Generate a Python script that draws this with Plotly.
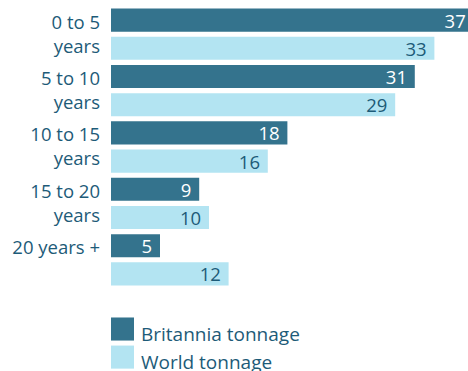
import plotly.graph_objects as go

# ---- data ----
categories = ["0 to 5<br>years", "5 to 10<br>years", "10 to 15<br>years",
              "15 to 20<br>years", "20 years +<br>\u00a0"]
series_names = ["Britannia tonnage", "World tonnage"]
britannia = [37, 31, 18, 9, 5]
world = [33, 29, 16, 10, 12]

# ---- style ----
W, H = 468, 371
DARK = "#34738d"
LIGHT = "#b3e4f2"
TEXT = "#1d5b78"
FONT = "Open Sans"
FS = 18.5

left, top, bottom = 111, 6.4, 83.4
plot_h = H - top - bottom

common = dict(orientation="h", textposition="inside", insidetextanchor="end",
              textangle=0, constraintext="none",
              showlegend=False, cliponaxis=True)

fig = go.Figure()
fig.add_trace(go.Bar(
    y=categories, x=britannia, name=series_names[0],
    marker=dict(color=DARK, line=dict(width=0)),
    text=[f"{v}\u00a0" for v in britannia],
    textfont=dict(family=FONT, size=FS, color="white"), **common,
))
fig.add_trace(go.Bar(
    y=categories, x=world, name=series_names[1],
    marker=dict(color=LIGHT, line=dict(width=0)),
    text=[f"{v}\u00a0" for v in world],
    textfont=dict(family=FONT, size=FS, color=TEXT), **common,
))

# legend swatches (drawn manually to match the large squares)
def py(p):
    return (H - bottom - p) / plot_h

legend_rows = [(317, 340, DARK), (345, 368, LIGHT)]
text_y = [333, 361]
for (p0, p1, col), name, ty in zip(legend_rows, series_names, text_y):
    fig.add_shape(type="rect", xref="paper", yref="paper",
                  x0=0, x1=23 / (W - left), y0=py(p1), y1=py(p0),
                  fillcolor=col, line=dict(width=0))
    fig.add_annotation(xref="paper", yref="paper", x=28 / (W - left), y=py(ty),
                       text=name, showarrow=False, xanchor="left", yanchor="middle",
                       font=dict(family=FONT, size=19, color=TEXT))

fig.update_layout(
    width=W, height=H,
    margin=dict(l=left, r=0, t=top, b=bottom, pad=0, autoexpand=False),
    paper_bgcolor="white", plot_bgcolor="white",
    barmode="group", bargap=0, bargroupgap=0.18,
    showlegend=False,
    font=dict(family=FONT, size=FS, color=TEXT),
    xaxis=dict(range=[0, 36.43], visible=False, showgrid=False, zeroline=False, fixedrange=True),
    yaxis=dict(type="category", autorange="reversed", showgrid=False, zeroline=False,
               showline=False, ticks="", ticklabelstandoff=10, automargin=False,
               tickfont=dict(family=FONT, size=FS, color=TEXT)),
)

fig.write_html("out.html", config={"displayModeBar": False})
